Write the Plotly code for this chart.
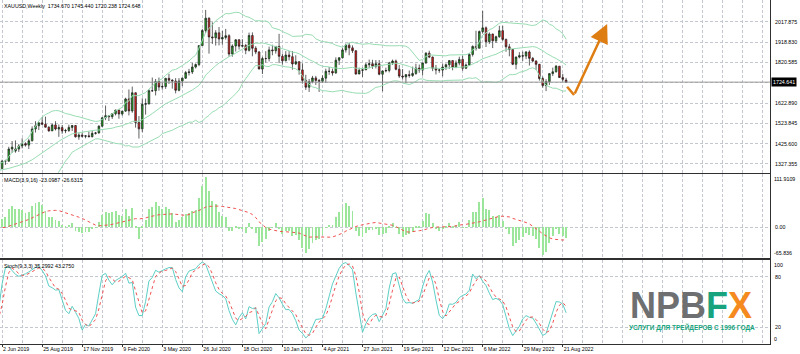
import numpy as np
import pandas as pd
import plotly.graph_objects as go
from plotly.subplots import make_subplots

# ---------------- data ----------------
first_week = "2018-12-30"   # weekly bars (Sunday dated); Dec 2018 - May 2019 is warm-up history
n_warmup = 22

open_ = [
 1281,1286,1289,1282,1298,1318,1314,1322,1328,1294,1298,1302,1313,1292,1291,1290,1276,1286,1280,1285,1276,1284,
 # 2019 from 2 Jun
 1305,1341,1341,1400,1390,1400,1415,1426,1419,1440,1497,1513,1527,1520,1506,1488,1517,1497,1504,1488,1490,1505,1514,1459,1468,1462,1464,1460,1476,1478,1511,
 # 2020
 1552,1562,1557,1571,1589,1570,1584,1643,1585,1673,1529,1498,1617,1620,1683,1683,1728,1701,1703,1743,1734,1730,1685,1730,1744,1771,1774,1798,1810,1902,
 1975,2035,1944,1940,1964,1934,1941,1950,1861,1900,1930,1899,1902,1879,1951,1889,1871,1788,1839,1839,1881,1877,
 # 2021
 1898,1850,1828,1856,1848,1813,1824,1784,1733,1700,1727,1745,1733,1729,1744,1777,1777,1769,1831,1843,1881,1904,1891,1877,1764,1782,
 1784,1809,1814,1802,1814,1763,1779,1781,1818,1827,1787,1754,1750,1761,1757,1767,1793,1783,1818,1865,1846,1792,1783,1783,1798,1809,
 # 2022
 1829,1797,1817,1835,1792,1808,1859,1898,1889,1970,1988,1921,1958,1925,1945,1974,1932,1896,1883,1811,1846,1853,1851,1871,1840,1827,
 1811,1742,1708,1727,1766,1775,1802,1747,1734.670,
]
high = [
 1298,1296,1298,1304,1326,1320,1323,1346,1334,1299,1311,1320,1324,1297,1310,1296,1288,1289,1303,1303,1288,1306,
 1348,1348,1411,1439,1442,1424,1452,1433,1450,1510,1535,1530,1555,1557,1510,1523,1535,1519,1516,1498,1518,1516,1515,1477,1479,1466,1485,1488,1483,1515,1553,
 1611,1563,1575,1591,1592,1584,1649,1689,1703,1675,1560,1646,1645,1690,1747,1740,1747,1722,1745,1765,1739,1744,1744,1747,1779,1789,1818,1815,1903,1983,
 2075,2039,2015,1977,1992,1973,1983,1957,1908,1933,1933,1933,1910,1965,1966,1899,1875,1848,1875,1897,1906,1900,
 1959,1863,1875,1875,1875,1855,1825,1816,1760,1740,1755,1755,1740,1758,1790,1798,1790,1845,1845,1890,1912,1916,1903,1879,1795,1795,
 1818,1834,1833,1832,1832,1781,1795,1823,1834,1834,1808,1788,1764,1781,1800,1814,1810,1818,1870,1877,1849,1808,1793,1815,1815,1831,
 1831,1830,1848,1853,1815,1865,1903,1974,1975,2070,1995,1966,1960,1950,1998,1998,1936,1910,1885,1850,1870,1873,1875,1879,1847,1831,
 1813,1752,1739,1767,1795,1808,1802,1765,1745.440,
]
low = [
 1276,1279,1280,1276,1296,1302,1302,1320,1290,1280,1290,1297,1288,1281,1287,1270,1266,1267,1280,1273,1273,1277,
 1305,1323,1339,1381,1382,1386,1403,1412,1400,1437,1480,1492,1518,1504,1484,1488,1490,1459,1474,1477,1483,1487,1456,1445,1456,1452,1457,1456,1470,1475,1507,
 1540,1536,1546,1563,1547,1562,1580,1563,1576,1504,1451,1482,1567,1615,1677,1660,1683,1688,1692,1716,1693,1670,1680,1705,1740,1757,1764,1791,1802,1900,
 1963,1863,1910,1902,1903,1906,1931,1848,1848,1873,1883,1894,1860,1873,1850,1860,1800,1764,1820,1825,1855,1863,
 1817,1809,1826,1830,1785,1808,1761,1717,1687,1677,1719,1711,1677,1721,1722,1760,1756,1766,1808,1839,1868,1855,1866,1761,1770,1750,
 1784,1792,1789,1791,1758,1680,1772,1772,1808,1782,1745,1737,1721,1746,1750,1760,1770,1758,1813,1841,1778,1762,1770,1753,1784,1789,
 1782,1792,1806,1780,1788,1805,1849,1878,1889,1960,1895,1910,1890,1915,1940,1925,1872,1850,1807,1787,1840,1828,1836,1805,1822,1784,
 1732,1698,1681,1711,1754,1771,1745,1727,1720.238,
]
close = [
 1286,1289,1282,1298,1318,1314,1322,1328,1294,1298,1302,1313,1292,1291,1290,1276,1286,1280,1285,1276,1284,1305,
 1341,1341,1400,1409,1400,1415,1426,1419,1440,1497,1513,1527,1520,1506,1488,1517,1497,1504,1488,1490,1505,1514,1459,1468,1462,1464,1460,1476,1478,1511,1552,
 1562,1557,1571,1589,1570,1584,1643,1585,1673,1529,1498,1617,1620,1683,1683,1728,1701,1703,1743,1734,1730,1685,1730,1744,1771,1774,1798,1810,1902,1975,
 2035,1944,1940,1964,1934,1941,1950,1861,1900,1930,1899,1902,1879,1951,1889,1871,1788,1839,1839,1881,1877,1898,
 1850,1828,1856,1848,1813,1824,1784,1733,1700,1727,1745,1733,1729,1744,1777,1777,1769,1831,1843,1881,1904,1891,1877,1764,1782,1784,
 1809,1814,1802,1814,1763,1779,1781,1818,1827,1787,1754,1750,1761,1757,1767,1793,1783,1818,1865,1846,1792,1783,1783,1798,1809,1829,
 1797,1817,1835,1792,1808,1859,1898,1889,1970,1988,1921,1958,1925,1945,1974,1932,1896,1883,1811,1846,1853,1851,1871,1840,1827,1811,
 1742,1708,1727,1766,1775,1802,1747,1738,1724.648,
]

tick_labels = ["2 Jun 2019", "25 Aug 2019", "17 Nov 2019", "9 Feb 2020", "3 May 2020", "26 Jul 2020",
               "18 Oct 2020", "10 Jan 2021", "4 Apr 2021", "27 Jun 2021", "19 Sep 2021", "12 Dec 2021",
               "6 Mar 2022", "29 May 2022", "21 Aug 2022"]
price_levels = [2017.875, 1918.830, 1820.585, 1721.740, 1622.890, 1523.845, 1425.600, 1327.355]
price_texts = ["2017.875", "1918.830", "1820.585", "", "1622.890", "1523.845", "1425.600", "1327.355"]
bid_price = 1724.641
macd_top, macd_bottom = 111.9109, -65.836
header_main = "XAUUSD,Weekly  1734.670 1745.440 1720.238 1724.648"
header_macd = "MACD(3,9,16) -23.0987 -26.6315"
header_stoch = "Stoch(9,3,3) 35.2992 43.2750"
forecast_x = [169.3, 171.4, 181.3]
forecast_y = [1702.5, 1662.2, 2006.7]

# ---------------- indicators ----------------
n = len(close)
assert len(open_) == n and len(high) == n and len(low) == n
x = np.arange(n) - n_warmup
c = pd.Series(close, dtype=float)
h = pd.Series(high, dtype=float)
l = pd.Series(low, dtype=float)

bb_mid = c.rolling(20).mean()
bb_sd = c.rolling(20).std(ddof=0)
bb_up = bb_mid + 2 * bb_sd
bb_lo = bb_mid - 2 * bb_sd

macd = c.ewm(span=3, adjust=False).mean() - c.ewm(span=9, adjust=False).mean()
macd_sig = macd.rolling(16).mean()

ll = l.rolling(9).min()
hh = h.rolling(9).max()
st_k = 100 * (c - ll).rolling(3).sum() / (hh - ll).rolling(3).sum()
st_d = st_k.rolling(3).mean()

# ---------------- figure ----------------
FONT = "Tahoma, Liberation Sans, Arial"
GRID = "#c3c7d0"
fig = make_subplots(rows=3, cols=1, shared_xaxes=True, vertical_spacing=0.004)

fig.add_trace(go.Candlestick(
    x=x, open=open_, high=high, low=low, close=close,
    increasing=dict(line=dict(color="#1c1c1c", width=0.7), fillcolor="#22a722"),
    decreasing=dict(line=dict(color="#1c1c1c", width=0.7), fillcolor="#e51c1c"),
    whiskerwidth=0, showlegend=False), row=1, col=1)
for s in (bb_up, bb_mid, bb_lo):
    fig.add_trace(go.Scatter(x=x, y=s, mode="lines", line=dict(color="#98dcb2", width=1),
                             showlegend=False), row=1, col=1)

fig.add_trace(go.Bar(x=x, y=macd, width=0.28, marker=dict(color="#9be69b", line=dict(width=0)),
                     showlegend=False), row=2, col=1)
fig.add_trace(go.Scatter(x=x, y=macd_sig, mode="lines", line=dict(color="#f05050", width=1, dash="dot"),
                         showlegend=False), row=2, col=1)

fig.add_trace(go.Scatter(x=x, y=st_k, mode="lines", line=dict(color="#5ccfc6", width=1),
                         showlegend=False), row=3, col=1)
fig.add_trace(go.Scatter(x=x, y=st_d, mode="lines", line=dict(color="#f05050", width=1, dash="dot"),
                         showlegend=False), row=3, col=1)

xr = [-0.63, 230.1]
tick_pos = list(range(0, 12 * len(tick_labels), 12))
fig.update_xaxes(range=xr, showgrid=True, gridcolor=GRID, griddash="3px,2px", gridwidth=1,
                 tickvals=tick_pos, ticktext=tick_labels, zeroline=False,
                 minor=dict(tickmode="linear", tick0=0, dtick=6, showgrid=True, gridcolor=GRID,
                            griddash="3px,2px", gridwidth=1),
                 showline=True, mirror=True, linecolor="#303030", linewidth=1,
                 rangeslider=dict(visible=False), fixedrange=True,
                 tickfont=dict(family=FONT, size=5.3, color="black"))
fig.update_xaxes(showticklabels=False, row=1, col=1)
fig.update_xaxes(showticklabels=False, row=2, col=1)
fig.update_xaxes(ticks="outside", ticklen=2, tickcolor="#303030",
                 ticklabelposition="outside right", row=3, col=1)

common_y = dict(side="right", showgrid=True, gridcolor=GRID, griddash="3px,2px", gridwidth=1,
                zeroline=False, showline=True, mirror=True, linecolor="#303030", linewidth=1,
                ticks="", ticklabelstandoff=3, tickfont=dict(family=FONT, size=5.3, color="black"))
fig.update_layout(
    yaxis=dict(domain=[0.49797, 1], range=[1285.1, 2123.2], tickvals=price_levels,
               ticktext=price_texts, **common_y),
    yaxis2=dict(domain=[0.24855, 0.49419], range=[macd_bottom, macd_top], tickvals=[0],
                ticktext=["0.00"], **common_y),
    yaxis3=dict(domain=[0, 0.24419], range=[0, 100], tickvals=[80, 20], ticktext=["80", "20"],
                **common_y),
)

# bid line
fig.add_shape(type="line", xref="x", yref="y", x0=xr[0], x1=xr[1], y0=bid_price, y1=bid_price,
              line=dict(color="#9a9a9a", width=1))

tf = dict(family=FONT, size=5.3, color="black")
ann = []
ann.append(dict(xref="paper", yref="y", x=1, y=bid_price, xanchor="left", yanchor="middle",
                text=f"{bid_price:.3f}", font=dict(family=FONT, size=5.3, color="white"),
                bgcolor="black", borderpad=1, showarrow=False, xshift=1))
ann.append(dict(xref="paper", yref="y2", x=1, y=macd_top, xanchor="left", yanchor="top",
                text=f"{macd_top:.4f}", font=tf, showarrow=False, xshift=2))
ann.append(dict(xref="paper", yref="y2", x=1, y=macd_bottom, xanchor="left", yanchor="bottom",
                text=f"{macd_bottom:.3f}", font=tf, showarrow=False, xshift=2))
ann.append(dict(xref="paper", yref="y3", x=1, y=100, xanchor="left", yanchor="top",
                text="100", font=tf, showarrow=False, xshift=2))
ann.append(dict(xref="paper", yref="y3", x=1, y=0, xanchor="left", yanchor="bottom",
                text="0", font=tf, showarrow=False, xshift=2))
for txt, yr in ((header_main, "y domain"), (header_macd, "y2 domain"), (header_stoch, "y3 domain")):
    ann.append(dict(xref="paper", yref=yr, x=0, y=1, xanchor="left", yanchor="top", text=txt,
                    font=tf, showarrow=False, xshift=2, yshift=-1))

# forecast arrow
fig.add_shape(type="line", xref="x", yref="y", x0=forecast_x[0], y0=forecast_y[0],
              x1=forecast_x[1], y1=forecast_y[1], line=dict(color="#de7d12", width=2.5))
ann.append(dict(xref="x", yref="y", axref="x", ayref="y", x=forecast_x[2], y=forecast_y[2],
                ax=forecast_x[1], ay=forecast_y[1], showarrow=True, arrowhead=2, arrowsize=1.5,
                arrowwidth=2.5, arrowcolor="#de7d12", text=""))

# logo
ann.append(dict(xref="paper", yref="paper", x=691 / 770, y=1 - 305 / 344, xanchor="center",
                yanchor="middle", showarrow=False, height=28, valign="middle", borderpad=0,
                text="<b><span style='color:#6e6f71'>NPB</span><span style='color:#17a37d'>F</span>"
                     "<span style='color:#f58a1f'>X</span></b>",
                font=dict(family="Liberation Sans, Arial", size=36)))
ann.append(dict(xref="paper", yref="paper", x=692 / 770, y=1 - 327 / 344, xanchor="center",
                yanchor="middle", showarrow=False, borderpad=0,
                text="<b>УСЛУГИ ДЛЯ ТРЕЙДЕРОВ С 1996 ГОДА</b>",
                font=dict(family="Liberation Sans, Arial", size=6.5, color="#17a37d")))

fig.update_layout(annotations=ann, width=800, height=354,
                  margin=dict(l=0, r=30, t=0, b=10),
                  paper_bgcolor="white", plot_bgcolor="white", showlegend=False,
                  bargap=0)

fig.write_html("out.html")
